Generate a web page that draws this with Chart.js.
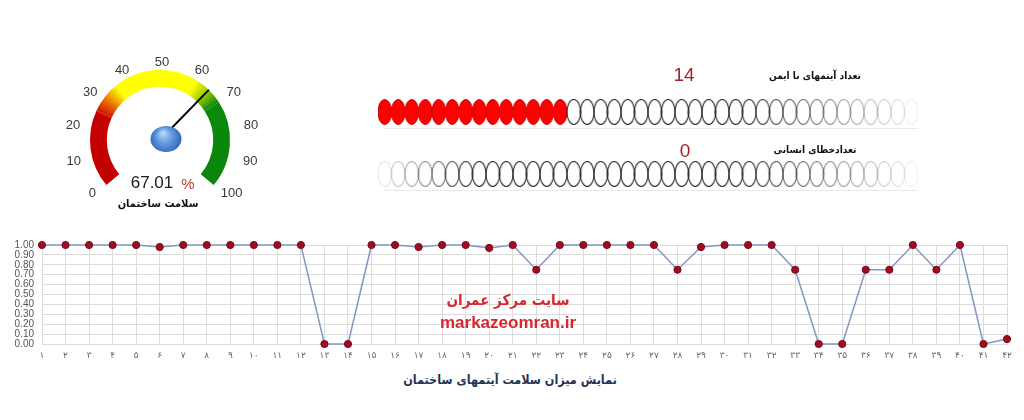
<!DOCTYPE html>
<html>
<head>
<meta charset="utf-8">
<script src="https://cdn.jsdelivr.net/npm/chart.js@4.4.1/dist/chart.umd.min.js"></script>
<style>
  html, body { margin: 0; padding: 0; background: #fff; }
  body { width: 1024px; height: 420px; position: relative; overflow: hidden; font-family: "DejaVu Sans", sans-serif; }
  canvas { position: absolute; }
  .txt { position: absolute; white-space: nowrap; transform: translate(-50%, -50%); line-height: 1; }
  .fa { direction: rtl; font-family: "DejaVu Sans Condensed", "DejaVu Sans", sans-serif; font-weight: bold; font-stretch: condensed; }
</style>
</head>
<body>
<canvas id="gauge" width="200" height="180" style="left:60px;top:40px"></canvas>
<canvas id="dots" width="560" height="140" style="left:370px;top:73px"></canvas>
<canvas id="trend" width="1024" height="135" style="left:0;top:230px"></canvas>

<div class="txt" id="gaugeText" style="left:152px;top:183px;font:17px 'Liberation Sans',Arial;color:#1a1a1a"></div>
<div class="txt" style="left:188px;top:183px;font:15px 'Liberation Sans',Arial;color:#c0392b">%</div>
<div class="txt fa" style="left:158px;top:203px;font-size:11px;color:#111">سلامت ساختمان</div>

<div class="txt" id="unsafeText" style="left:684px;top:75px;font:19px 'Liberation Sans',Arial;color:#a3222c"></div>
<div class="txt fa" style="left:815px;top:76px;font-size:10px;color:#111">تعداد آیتمهای نا ایمن</div>
<div class="txt" id="errorText" style="left:685px;top:151px;font:19px 'Liberation Sans',Arial;color:#a3222c"></div>
<div class="txt fa" style="left:815px;top:150px;font-size:10px;color:#111">تعدادخطای انسانی</div>

<div class="txt fa" style="left:508px;top:300px;font-size:15px;color:#d9262e">سایت مرکز عمران</div>
<div class="txt" style="left:508px;top:323px;font:bold 17px 'Liberation Sans',Arial;color:#d9262e">markazeomran.ir</div>

<div class="txt fa" style="left:510px;top:380px;font-size:12.5px;color:#1f3455">نمایش میزان سلامت آیتمهای ساختمان</div>

<script>
// gauge
const gaugeValue = 67.01;
const gaugeMax = 100;
const gaugeTicks = [0, 10, 20, 30, 40, 50, 60, 70, 80, 90, 100];
const gaugeBands = [25, 10, 28, 9, 28];   // red, red->yellow, yellow, yellow->green, green

// counters
const unsafeCount = 14;
const humanErrorCount = 0;
const dotSlots = 40;

// trend
const itemLabels = ['۱','۲','۳','۴','۵','۶','۷','۸','۹','۱۰','۱۱','۱۲','۱۳','۱۴','۱۵','۱۶','۱۷','۱۸','۱۹','۲۰','۲۱',
                    '۲۲','۲۳','۲۴','۲۵','۲۶','۲۷','۲۸','۲۹','۳۰','۳۱','۳۲','۳۳','۳۴','۳۵','۳۶','۳۷','۳۸','۳۹','۴۰','۴۱','۴۲'];
const healthValues = [1, 1, 1, 1, 1, 0.98, 1, 1, 1, 1, 1, 1, 0, 0, 1, 1, 0.98, 1, 1, 0.97, 1,
                      0.75, 1, 1, 1, 1, 1, 0.75, 0.98, 1, 1, 1, 0.75, 0, 0, 0.75, 0.75, 1, 0.75, 1, 0, 0.05];

document.getElementById('gaugeText').textContent = gaugeValue.toFixed(2);
document.getElementById('unsafeText').textContent = unsafeCount;
document.getElementById('errorText').textContent = humanErrorCount;

const ROT = -130, CIRC = 260;

function gaugeFill(context) {
    const chart = context.chart;
    const ca = chart.chartArea;
    const ctrl = chart.getDatasetMeta(0).controller;
    if (!ca || !ctrl) return '#c00000';
    const cx = (ca.left + ca.right) / 2 + (ctrl.offsetX || 0);
    const cy = (ca.top + ca.bottom) / 2 + (ctrl.offsetY || 0);
    const g = chart.ctx.createConicGradient((ROT - 90) * Math.PI / 180, cx, cy);
    const f = v => v / gaugeMax * CIRC / 360;
    g.addColorStop(f(0), '#c00000');
    g.addColorStop(f(24), '#c60000');
    g.addColorStop(f(29), '#e86a00');
    g.addColorStop(f(35), '#ffff00');
    g.addColorStop(f(62), '#ffff00');
    g.addColorStop(f(67), '#9ccc00');
    g.addColorStop(f(72), '#0b8a0b');
    g.addColorStop(f(100), '#0a850a');
    return g;
}

const gaugeDeco = {
    id: 'gaugeDeco',
    afterDatasetsDraw(chart) {
        const arcs = chart.getDatasetMeta(0).data;
        const first = arcs[0], last = arcs[arcs.length - 1];
        const x = first.x, y = first.y, r = first.outerRadius;
        const a0 = first.startAngle, a1 = last.endAngle;
        const ctx = chart.ctx;
        ctx.save();
        ctx.font = '13px "Liberation Sans", Arial';
        ctx.fillStyle = '#3a3a3a';
        ctx.textAlign = 'center';
        ctx.textBaseline = 'middle';
        // labels sit on a slightly flattened ring, as Excel places them
        gaugeTicks.forEach(t => {
            const a = a0 + (a1 - a0) * t / gaugeMax;
            ctx.fillText(String(t), x + 2 + Math.cos(a) * (r + 21), y + 2 + Math.sin(a) * (r + 10));
        });
        // needle
        const av = a0 + (a1 - a0) * gaugeValue / gaugeMax;
        ctx.strokeStyle = '#000';
        ctx.lineWidth = 2;
        ctx.beginPath();
        ctx.moveTo(x, y);
        ctx.lineTo(x + Math.cos(av) * r, y + Math.sin(av) * r);
        ctx.stroke();
        // hub
        const hx = x + 6, hy = y - 1;
        const g = ctx.createRadialGradient(hx - 3, hy - 6, 1, hx, hy, 17);
        g.addColorStop(0, '#b5d4f7');
        g.addColorStop(0.45, '#5f98e0');
        g.addColorStop(1, '#2c5fae');
        ctx.fillStyle = g;
        ctx.beginPath();
        ctx.ellipse(hx, hy, 15.5, 13, 0, 0, Math.PI * 2);
        ctx.fill();
        ctx.restore();
    }
};

new Chart(document.getElementById('gauge'), {
    type: 'doughnut',
    data: {
        datasets: [{
            data: gaugeBands,
            backgroundColor: gaugeFill,
            borderWidth: 0,
            hoverOffset: 0
        }]
    },
    options: {
        responsive: false,
        animation: false,
        rotation: ROT,
        circumference: CIRC,
        radius: 70,
        cutout: '76%',
        layout: {padding: {bottom: 5}},
        events: [],
        plugins: {legend: {display: false}, tooltip: {enabled: false}}
    },
    plugins: [gaugeDeco]
});

// ellipse counters
function ellipseSprite(filled, alpha) {
    const c = document.createElement('canvas');
    c.width = 16;
    c.height = 28;
    const g = c.getContext('2d');
    g.globalAlpha = alpha;
    g.beginPath();
    g.ellipse(8, 14, 6.9, 12.5, 0, 0, Math.PI * 2);
    if (filled) {
        g.fillStyle = '#ff0000';
        g.fill();
        g.strokeStyle = '#c40000';
        g.lineWidth = 1;
        g.stroke();
    } else {
        g.strokeStyle = '#222';
        g.lineWidth = 1.1;
        g.stroke();
    }
    return c;
}

function fade(i, leftFade) {
    let a = 1;
    if (i > 26) a = Math.max(0.08, 1 - (i - 26) / 14);
    if (leftFade && i < 7) a = Math.min(a, 0.12 + i * 0.13);
    return a;
}

function rowPoints(yRow) {
    const pts = [];
    for (let i = 1; i <= dotSlots; i++) pts.push({x: i, y: yRow});
    return pts;
}

const rowBase = {
    id: 'rowBase',
    beforeDatasetsDraw(chart) {
        const {ctx, chartArea, scales} = chart;
        ctx.save();
        ctx.strokeStyle = '#e9e9e9';
        ctx.lineWidth = 1;
        [2, 1].forEach(v => {
            const yy = Math.round(scales.y.getPixelForValue(v) + 16) + 0.5;
            ctx.beginPath();
            ctx.moveTo(chartArea.left + 6, yy);
            ctx.lineTo(chartArea.right, yy);
            ctx.stroke();
        });
        ctx.restore();
    }
};

new Chart(document.getElementById('dots'), {
    type: 'scatter',
    data: {
        datasets: [
            {
                data: rowPoints(2),
                pointStyle: c => ellipseSprite(c.dataIndex < unsafeCount, c.dataIndex < unsafeCount ? 1 : fade(c.dataIndex, false)),
                pointRadius: 7
            },
            {
                data: rowPoints(1),
                pointStyle: c => ellipseSprite(c.dataIndex < humanErrorCount, c.dataIndex < humanErrorCount ? 1 : fade(c.dataIndex, true)),
                pointRadius: 7
            }
        ]
    },
    options: {
        responsive: false,
        animation: false,
        events: [],
        layout: {padding: {left: 8, right: 12, top: 0, bottom: 0}},
        plugins: {legend: {display: false}, tooltip: {enabled: false}},
        scales: {
            x: {type: 'linear', min: 0.5, max: dotSlots + 0.5, display: false},
            y: {type: 'linear', min: 0.5, max: 2.5, display: false}
        }
    },
    plugins: [rowBase]
});

// trend line
new Chart(document.getElementById('trend'), {
    type: 'line',
    data: {
        labels: itemLabels,
        datasets: [{
            data: healthValues,
            borderColor: '#8099c2',
            borderWidth: 1.5,
            tension: 0,
            clip: false,
            pointRadius: 3.6,
            pointBackgroundColor: '#9e0c22',
            pointBorderColor: '#7c0918',
            pointBorderWidth: 1
        }]
    },
    options: {
        responsive: false,
        animation: false,
        events: [],
        layout: {padding: {top: 15, right: 17, left: 0, bottom: 0}},
        plugins: {legend: {display: false}, tooltip: {enabled: false}},
        scales: {
            x: {
                offset: false,
                grid: {color: '#dcdcdc', drawTicks: false},
                border: {color: '#dcdcdc'},
                ticks: {font: {size: 9, family: 'DejaVu Sans'}, color: '#666', padding: 6, maxRotation: 0, autoSkip: false},
                afterFit(s) { s.height = 21; }
            },
            y: {
                min: 0,
                max: 1,
                grid: {color: '#dcdcdc', drawTicks: false},
                border: {color: '#dcdcdc'},
                ticks: {stepSize: 0.1, autoSkip: false, callback: v => v.toFixed(2),
                        font: {size: 10, family: 'Liberation Sans', lineHeight: 0.8}, color: '#555', padding: 8},
                afterFit(s) { s.width = 42; }
            }
        }
    }
});
</script>
</body>
</html>
